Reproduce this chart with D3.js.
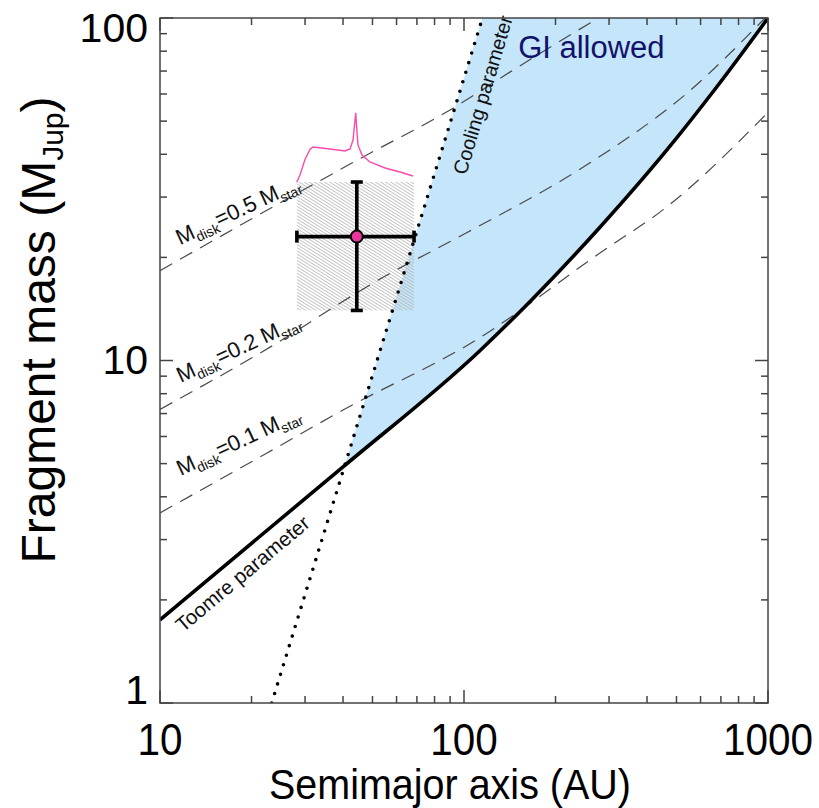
<!DOCTYPE html>
<html>
<head>
<meta charset="utf-8">
<script src="https://cdn.jsdelivr.net/npm/d3@7"></script>
<style>
  body { margin: 0; background: #fff; }
  text { font-family: "Liberation Sans", Arial, sans-serif; }
</style>
</head>
<body>
<svg width="819" height="808"></svg>
<script>
// data (AU, Jupiter masses)
var toomreA = [10, 40, 113, 169, 280, 465, 679, 1000];
var toomreM = [1.75, 4.89, 10.7, 15.2, 24.5, 41.2, 63, 100];

var coolA = [23.3, 115];
var coolM = [1.0, 100];

var disk01A = [10, 22.5, 40, 110, 280, 465, 1000];
var disk01M = [3.59, 5.37, 7.17, 11.5, 20.6, 28.1, 53];
var disk02A = [10, 21.3, 54.2, 102, 259, 542, 1000];
var disk02M = [7.2, 10.5, 17.5, 23.6, 37.7, 60.4, 102];
var disk05A = [10, 46.6, 90, 141.5, 280];
var disk05M = [18.3, 39.3, 53.9, 69.5, 100.7];

var objA = 44.4, objM = 23;
var objErrA = [28.2, 68.5];
var objErrM = [14.0, 33.2];

var specA = [28.17, 28.87, 29.99, 31.14, 31.86, 36.25, 40.61, 42.17, 43.15, 43.8, 44.04, 44.3, 44.8, 46.18, 49.07, 54.97, 61.6, 67.96];
var specM = [33.14, 34.8, 38.64, 41.32, 42.02, 41.46, 40.9, 41.46, 44.04, 50.38, 52.9, 48.7, 42.6, 39.8, 37.98, 36.48, 35.51, 34.57];

var xTicksMajor = [10, 100, 1000];
var yTicksMajor = [1, 10, 100];

var svg = d3.select("svg"),
    pL = 160, pR = 768, pT = 18, pB = 703;

var xScale = d3.scaleLog().domain([10, 1000]).range([pL, pR]),
    yScale = d3.scaleLog().domain([1, 100]).range([pB, pT]);

var defs = svg.append("defs");
defs.append("clipPath").attr("id", "plotclip")
  .append("rect").attr("x", pL).attr("y", pT)
  .attr("width", pR - pL).attr("height", pB - pT);

// region right of the cooling line
defs.append("clipPath").attr("id", "coolclip")
  .append("polygon")
  .attr("points", [
      [xScale(coolA[0]), yScale(coolM[0])],
      [xScale(coolA[1]), yScale(coolM[1])],
      [pR, pT], [pR, pB]
    ].map(function(p) { return p.join(","); }).join(" "));

var hatch = defs.append("pattern").attr("id", "hatch")
  .attr("patternUnits", "userSpaceOnUse")
  .attr("width", 6).attr("height", 2.7)
  .attr("patternTransform", "rotate(32)");
hatch.append("line").attr("x1", 0).attr("y1", 1.35).attr("x2", 6).attr("y2", 1.35)
  .attr("stroke", "#b4b4b4").attr("stroke-width", 0.8);

var g = svg.append("g").attr("clip-path", "url(#plotclip)");

var toomre = toomreA.map(function(a, i) { return [a, toomreM[i]]; });

// GI allowed region
g.append("g").attr("clip-path", "url(#coolclip)")
  .append("path")
  .datum(toomre)
  .attr("fill", "#c4e5fa")
  .attr("d", d3.area()
      .x(function(d) { return xScale(d[0]); })
      .y0(function(d) { return yScale(d[1]); })
      .y1(pT)
      .curve(d3.curveMonotoneX));

// hatched uncertainty box
g.append("rect")
  .attr("x", xScale(objErrA[0]))
  .attr("y", yScale(objErrM[1]))
  .attr("width", xScale(objErrA[1]) - xScale(objErrA[0]))
  .attr("height", yScale(objErrM[0]) - yScale(objErrM[1]))
  .attr("fill", "url(#hatch)");

var line = d3.line()
  .x(function(d) { return xScale(d[0]); })
  .y(function(d) { return yScale(d[1]); })
  .curve(d3.curveMonotoneX);

[[disk01A, disk01M], [disk02A, disk02M], [disk05A, disk05M]].forEach(function(s) {
  g.append("path")
    .datum(s[0].map(function(a, i) { return [a, s[1][i]]; }))
    .attr("fill", "none")
    .attr("stroke", "#4a4a4a")
    .attr("stroke-width", 1.2)
    .attr("stroke-dasharray", "14,9")
    .attr("d", line);
});

// cooling parameter (dotted)
g.append("path")
  .datum(coolA.map(function(a, i) { return [a, coolM[i]]; }))
  .attr("fill", "none")
  .attr("stroke", "#000")
  .attr("stroke-width", 3.6)
  .attr("stroke-linecap", "round")
  .attr("stroke-dasharray", "0,10")
  .attr("d", d3.line().x(function(d) { return xScale(d[0]); }).y(function(d) { return yScale(d[1]); }));

// Toomre parameter (solid)
g.append("path")
  .datum(toomre)
  .attr("fill", "none")
  .attr("stroke", "#000")
  .attr("stroke-width", 3.6)
  .attr("d", line);

// spectrum inset
svg.append("path")
  .datum(specA.map(function(a, i) { return [a, specM[i]]; }))
  .attr("fill", "none")
  .attr("stroke", "#fa4aac")
  .attr("stroke-width", 1.4)
  .attr("d", d3.line().x(function(d) { return xScale(d[0]); }).y(function(d) { return yScale(d[1]); }));

// error bars
var eb = svg.append("g").attr("stroke", "#000").attr("stroke-width", 3.6);
eb.append("line")
  .attr("x1", xScale(objErrA[0])).attr("x2", xScale(objErrA[1]))
  .attr("y1", yScale(objM)).attr("y2", yScale(objM));
eb.append("line")
  .attr("x1", xScale(objA)).attr("x2", xScale(objA))
  .attr("y1", yScale(objErrM[0])).attr("y2", yScale(objErrM[1]));
objErrA.forEach(function(a) {
  eb.append("line")
    .attr("x1", xScale(a)).attr("x2", xScale(a))
    .attr("y1", yScale(objM) - 6).attr("y2", yScale(objM) + 6);
});
objErrM.forEach(function(m) {
  eb.append("line")
    .attr("x1", xScale(objA) - 6).attr("x2", xScale(objA) + 6)
    .attr("y1", yScale(m)).attr("y2", yScale(m));
});
svg.append("circle")
  .attr("cx", xScale(objA)).attr("cy", yScale(objM)).attr("r", 6)
  .attr("fill", "#e8369a").attr("stroke", "#000").attr("stroke-width", 2);

// labels on the curves
function mdiskLabel(a, m, val) {
  var t = svg.append("text")
    .attr("transform", "translate(" + xScale(a) + "," + yScale(m) + ") rotate(-25)")
    .attr("font-size", 22).attr("fill", "#111");
  t.append("tspan").text("M");
  t.append("tspan").attr("font-size", 14).attr("dy", 5).text("disk");
  t.append("tspan").attr("dy", -5).text("=" + val + " M");
  t.append("tspan").attr("font-size", 14).attr("dy", 5).text("star");
}
mdiskLabel(11.63, 21.7, "0.5");
mdiskLabel(11.7, 8.6, "0.2");
mdiskLabel(11.7, 4.6, "0.1");

svg.append("text")
  .attr("transform", "translate(" + xScale(11.9) + "," + yScale(1.6) + ") rotate(-40)")
  .attr("font-size", 20.5).attr("fill", "#111")
  .text("Toomre parameter");

svg.append("text")
  .attr("transform", "translate(" + xScale(101.6) + "," + yScale(34.6) + ") rotate(-73.5)")
  .attr("font-size", 20).attr("fill", "#111")
  .text("Cooling parameter");

svg.append("text")
  .attr("x", xScale(150.7)).attr("y", yScale(76.4))
  .attr("font-size", 31).attr("fill", "#12126a")
  .text("GI allowed");

// frame and ticks
var frame = svg.append("g").attr("stroke", "#444").attr("stroke-width", 1.5);
frame.append("rect").attr("x", pL).attr("y", pT)
  .attr("width", pR - pL).attr("height", pB - pT).attr("fill", "none");

xScale.ticks().forEach(function(v) {
  var len = xTicksMajor.indexOf(v) >= 0 ? 13 : 7;
  var px = xScale(v);
  frame.append("line").attr("x1", px).attr("x2", px).attr("y1", pB).attr("y2", pB - len);
  frame.append("line").attr("x1", px).attr("x2", px).attr("y1", pT).attr("y2", pT + len);
});
yScale.ticks().forEach(function(v) {
  var len = yTicksMajor.indexOf(v) >= 0 ? 13 : 7;
  var py = yScale(v);
  frame.append("line").attr("x1", pL).attr("x2", pL + len).attr("y1", py).attr("y2", py);
  frame.append("line").attr("x1", pR).attr("x2", pR - len).attr("y1", py).attr("y2", py);
});

xTicksMajor.forEach(function(v) {
  svg.append("text")
    .attr("x", xScale(v)).attr("y", 755)
    .attr("text-anchor", "middle")
    .attr("font-size", 45)
    .attr("textLength", String(v).length * 22.5)
    .attr("lengthAdjust", "spacingAndGlyphs")
    .text(v);
});
yTicksMajor.forEach(function(v) {
  var by = Math.min(Math.max(yScale(v) + 13, pT + 24), pB + 1);
  svg.append("text")
    .attr("x", 148).attr("y", by)
    .attr("text-anchor", "end")
    .attr("font-size", 41)
    .text(v);
});

svg.append("text")
  .attr("x", 450).attr("y", 799)
  .attr("text-anchor", "middle")
  .attr("font-size", 43)
  .attr("textLength", 362)
  .attr("lengthAdjust", "spacingAndGlyphs")
  .text("Semimajor axis (AU)");

var yt = svg.append("text")
  .attr("transform", "translate(55,330) rotate(-90)")
  .attr("text-anchor", "middle")
  .attr("font-size", 48);
yt.append("tspan").text("Fragment mass (M");
yt.append("tspan").attr("font-size", 30).attr("dy", 8).text("Jup");
yt.append("tspan").attr("dy", -8).text(")");
</script>
</body>
</html>
